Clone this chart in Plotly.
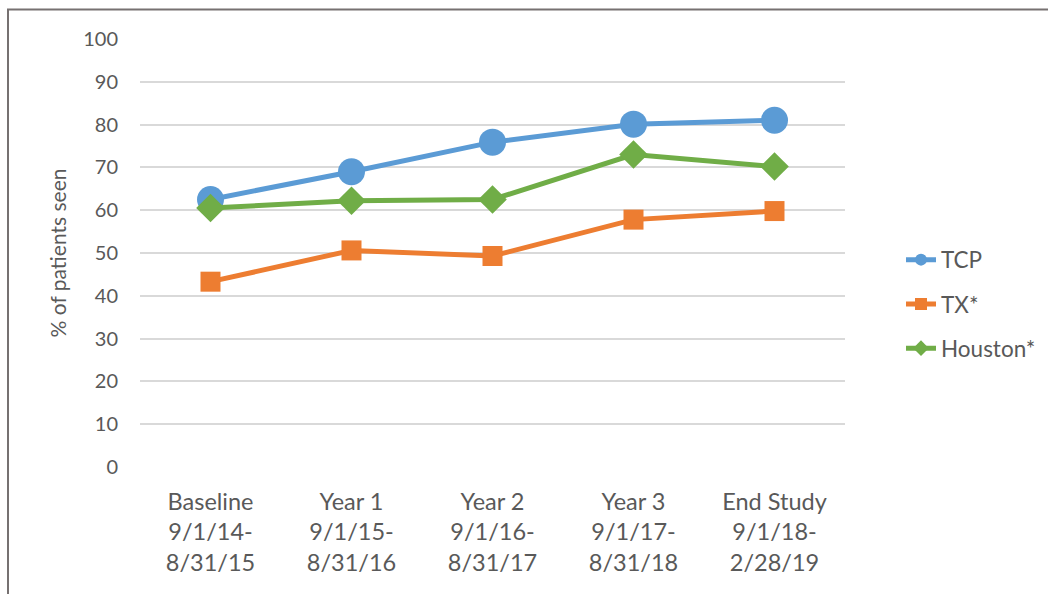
import plotly.graph_objects as go

categories = ["Baseline<br>9/1/14-<br>8/31/15", "Year 1<br>9/1/15-<br>8/31/16",
              "Year 2<br>9/1/16-<br>8/31/17", "Year 3<br>9/1/17-<br>8/31/18",
              "End Study<br>9/1/18-<br>2/28/19"]
tcp = [62.5, 69.0, 75.9, 80.1, 81.0]
tx = [43.3, 50.6, 49.3, 57.8, 59.8]
houston = [60.5, 62.2, 62.5, 73.0, 70.2]
y_ticks = [0, 10, 20, 30, 40, 50, 60, 70, 80, 90, 100]

FONT = "Lato, 'Open Sans', sans-serif"
GREY = "#595959"

W, H = 1048, 594
L, R, T, B = 140, 845, 39, 467

fig = go.Figure()
fig.add_trace(go.Scatter(x=categories, y=tcp, name="TCP", mode="lines+markers",
                         line=dict(color="#5B9BD5", width=5),
                         marker=dict(symbol="circle", size=27, color="#5B9BD5"),
                         legendgroup="a"))
fig.add_trace(go.Scatter(x=categories, y=tx, name="TX*", mode="lines+markers",
                         line=dict(color="#ED7D31", width=5),
                         marker=dict(symbol="square", size=20, color="#ED7D31"),
                         legendgroup="b"))
fig.add_trace(go.Scatter(x=categories, y=houston, name="Houston*", mode="lines+markers",
                         line=dict(color="#70AD47", width=5),
                         marker=dict(symbol="diamond", size=22, color="#70AD47"),
                         legendgroup="c"))

fig.update_layout(
    width=W, height=H,
    margin=dict(l=L, r=W - R, t=T, b=H - B, pad=0, autoexpand=False),
    paper_bgcolor="white", plot_bgcolor="white",
    font=dict(family=FONT, size=21, color=GREY),
    showlegend=True,
    legend=dict(x=(901 - L) / (R - L), xanchor="left",
                y=(B - 304) / (B - T), yanchor="middle",
                font=dict(family=FONT, size=22.5, color=GREY),
                tracegroupgap=12, itemsizing="constant",
                bgcolor="rgba(0,0,0,0)"),
    xaxis=dict(type="category", range=[-0.5, len(categories) - 0.5],
               showgrid=False, zeroline=False, showline=False, automargin=False,
               ticks="", tickfont=dict(family=FONT, size=23.5, color=GREY),
               ticklabelstandoff=18),
    yaxis=dict(range=[0, 100], tickvals=y_ticks, showgrid=True, gridcolor="#D9D9D9",
               gridwidth=1.5, zeroline=False, showline=False, ticks="", automargin=False,
               tickfont=dict(family=FONT, size=20, color=GREY),
               ticklabelstandoff=21,
               title=dict(text="% of patients seen", standoff=10,
                          font=dict(family=FONT, size=21, color=GREY))),
    shapes=[dict(type="rect", xref="paper", yref="paper",
                 x0=(8 - L) / (R - L), x1=(1060 - L) / (R - L),
                 y0=(B - 610) / (B - T), y1=(B - 9.5) / (B - T),
                 line=dict(color="#767171", width=2), fillcolor="rgba(0,0,0,0)", layer="below")],
)

fig.write_html("out.html", config={"displayModeBar": False},
               post_script="document.body.style.margin='0';")
